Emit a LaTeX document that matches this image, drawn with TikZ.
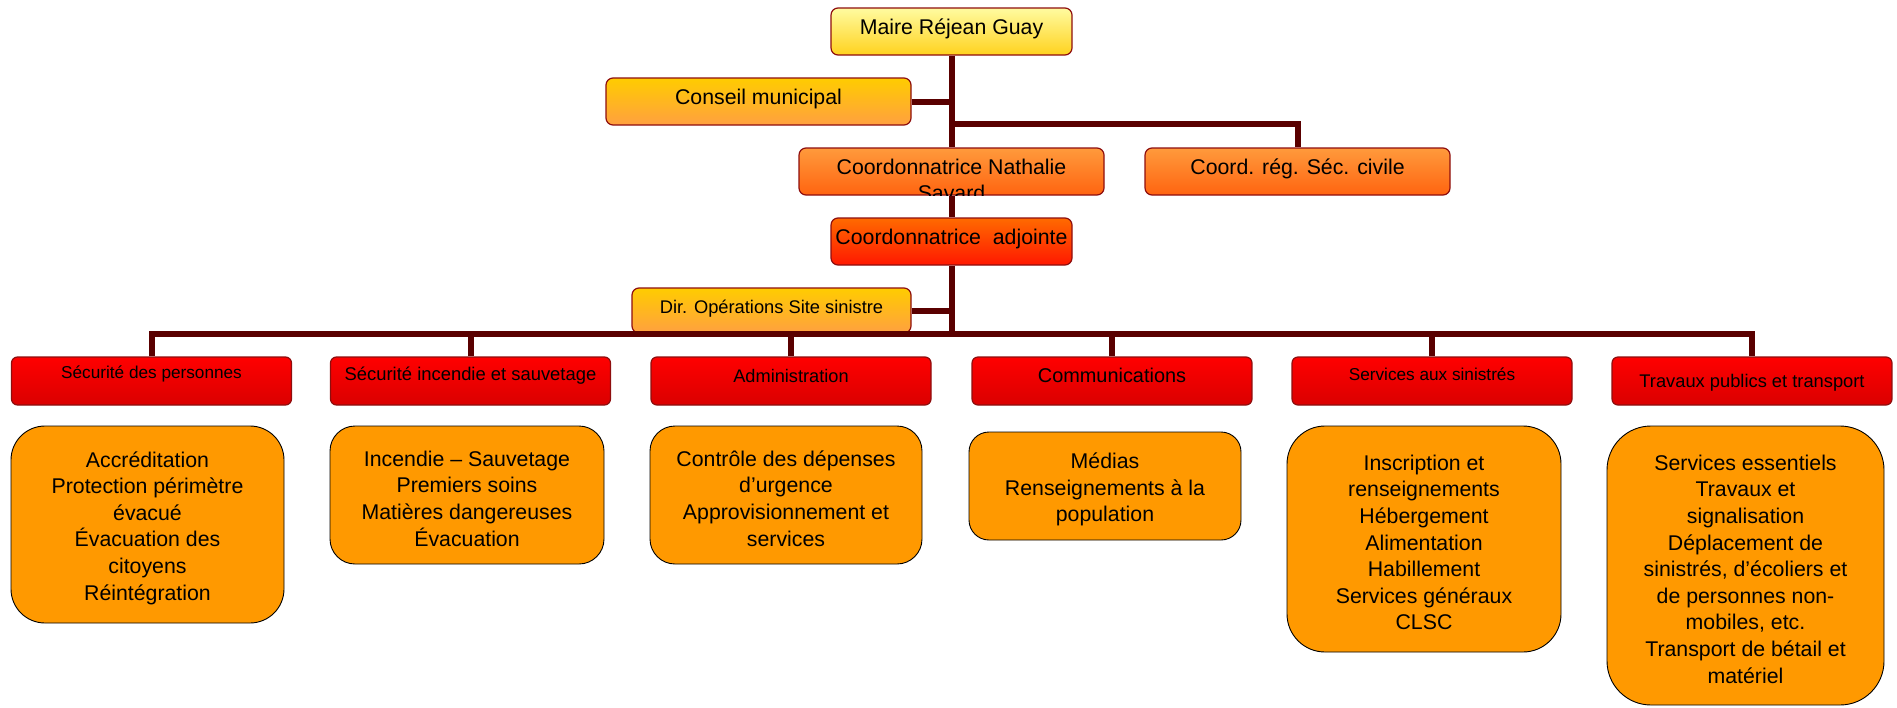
\documentclass[tikz,border=0pt]{standalone}
\usepackage{fontspec}
\setmainfont{Liberation Sans}
\definecolor{conn}{HTML}{5A0000}
\definecolor{bord}{HTML}{8E0E0E}
\definecolor{bub}{HTML}{FF9900}
\definecolor{yTop}{HTML}{FFFBA0}
\definecolor{yBot}{HTML}{FFD21E}
\definecolor{gTop}{HTML}{FFCC00}
\definecolor{gBot}{HTML}{FFA040}
\definecolor{oTop}{HTML}{FF9A3C}
\definecolor{oBot}{HTML}{FF6410}
\definecolor{aTop}{HTML}{FF6A00}
\definecolor{aBot}{HTML}{FF1800}
\definecolor{rTop}{HTML}{FF0000}
\definecolor{rBot}{HTML}{DA0000}
\newcommand{\fsz}[2]{\fontsize{#1}{#2}\selectfont}
\tikzset{
  conline/.style={draw=conn, line width=6pt},
  topbox/.style={draw=bord, line width=1.2pt, rounded corners=7pt, inner xsep=0pt, inner ysep=0pt,
    text height=26pt, text depth=21pt, font=\fsz{21.3pt}{26.6pt}},
  redbox/.style={draw=bord, line width=1.2pt, rounded corners=6pt, top color=rTop, bottom color=rBot,
    minimum width=280pt, inner xsep=0pt, inner ysep=0pt},
  bubble/.style={draw=black, line width=0.9pt, fill=bub, inner sep=0pt},
  bubtext/.style={align=center, inner sep=0pt, yshift=-3.5pt, font=\fsz{21.3pt}{26.6pt}}
}
\begin{document}
\begin{tikzpicture}[x=1pt,y=-1pt]
\useasboundingbox (0,0) rectangle (1897,707);

% top hierarchy
\node[topbox, top color=yTop, bottom color=yBot, minimum width=241pt] (maire) at (951.5,31.5) {Maire Réjean Guay};
\node[topbox, top color=gTop, bottom color=gBot, minimum width=305pt] (conseil) at (758.5,101.5) {Conseil municipal};
\node[topbox, top color=oTop, bottom color=oBot, minimum width=305pt] (nathalie) at (951.5,171.5) {};
\node[topbox, top color=oTop, bottom color=oBot, minimum width=305pt] (coordreg) at (1297.5,171.5) {Coord. rég. Séc. civile};
\node[topbox, top color=aTop, bottom color=aBot, minimum width=241pt] (adjointe) at (951.5,241.5) {Coordonnatrice\ \ adjointe};
\node[topbox, top color=gTop, bottom color=gBot, minimum width=279pt, text height=25pt, text depth=20pt,
      font=\fsz{18.3pt}{22pt}] (dirops) at (771.5,310.5) {Dir. Opérations Site sinistre};

\begin{scope}
  \clip (nathalie.south west) rectangle (nathalie.north east);
  \node[anchor=base, inner sep=0pt, font=\fsz{21.3pt}{26.6pt}] (nathtext) at (951.5,174)
    {\begin{tabular}[t]{@{}c@{}}Coordonnatrice Nathalie\\Savard\end{tabular}};
\end{scope}

% service heads
\node[redbox, text height=21pt, text depth=27pt, font=\fsz{17.2pt}{21pt}] (r1) at (151.5,381) {Sécurité des personnes};
\node[redbox, text height=23pt, text depth=25pt, font=\fsz{18.4pt}{22pt}] (r2) at (470.5,381) {Sécurité incendie et sauvetage};
\node[redbox, text height=25pt, text depth=23pt, font=\fsz{18.2pt}{22pt}] (r3) at (791,381) {Administration};
\node[redbox, text height=25pt, text depth=23pt, font=\fsz{19.9pt}{24pt}] (r4) at (1112,381) {Communications};
\node[redbox, text height=23pt, text depth=25pt, font=\fsz{17.2pt}{21pt}] (r5) at (1432,381) {Services aux sinistrés};
\node[redbox, text height=30pt, text depth=18pt, font=\fsz{18.3pt}{22pt}] (r6) at (1752,381) {Travaux publics et transport};

% detail bubbles
\node[bubble, minimum width=273pt, minimum height=197pt, rounded corners=34pt] (b1) at (147.5,524.5) {};
\node[bubble, minimum width=274pt, minimum height=138pt, rounded corners=25pt] (b2) at (467,495) {};
\node[bubble, minimum width=272pt, minimum height=138pt, rounded corners=25pt] (b3) at (786,495) {};
\node[bubble, minimum width=272pt, minimum height=108pt, rounded corners=20pt] (b4) at (1105,486) {};
\node[bubble, minimum width=274pt, minimum height=226pt, rounded corners=38pt] (b5) at (1424,539) {};
\node[bubble, minimum width=277pt, minimum height=279pt, rounded corners=44pt] (b6) at (1745.5,565.5) {};

\node[bubtext] (t1) at (b1) {Accréditation\\Protection périmètre\\évacué\\Évacuation des\\citoyens\\Réintégration};
\node[bubtext] (t2) at (b2) {Incendie – Sauvetage\\Premiers soins\\Matières dangereuses\\Évacuation};
\node[bubtext] (t3) at (b3) {Contrôle des dépenses\\d’urgence\\Approvisionnement et\\services};
\node[bubtext] (t4) at (b4) {Médias\\Renseignements à la\\population};
\node[bubtext] (t5) at (b5) {Inscription et\\renseignements\\Hébergement\\Alimentation\\Habillement\\Services généraux\\CLSC};
\node[bubtext] (t6) at (b6) {Services essentiels\\Travaux et\\signalisation\\Déplacement de\\sinistrés, d’écoliers et\\de personnes non-\\mobiles, etc.\\Transport de bétail et\\matériel};

% connectors
\coordinate (j1) at (951.5,123.5);
\coordinate (bus) at (951.5,334);
\draw[conline] (maire.south) -- (nathalie.north);
\draw[conline] (conseil.east) -- (conseil.east -| maire.south);
\draw[conline] (j1) -| (coordreg.north);
\draw[conline] (nathalie.south) -- (adjointe.north);
\draw[conline] (adjointe.south) -- (bus);
\draw[conline] (dirops.east) -- (dirops.east -| adjointe.south);
\draw[conline] (r1.north) |- (bus) -| (r6.north);
\draw[conline] (r2.north) -- (r2.north |- bus);
\draw[conline] (r3.north) -- (r3.north |- bus);
\draw[conline] (r4.north) -- (r4.north |- bus);
\draw[conline] (r5.north) -- (r5.north |- bus);
\end{tikzpicture}
\end{document}
